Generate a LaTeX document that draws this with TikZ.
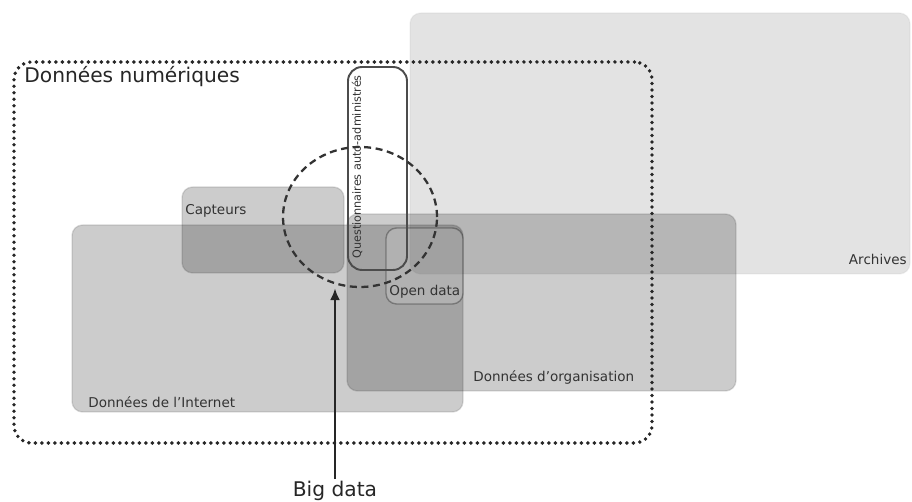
\documentclass[tikz,border=0pt]{standalone}
\usepackage{fontspec}
\setmainfont{DejaVu Sans}
\usetikzlibrary{arrows.meta,positioning,fit,shapes.geometric}

\begin{document}
\begin{tikzpicture}[
  x=0.02cm, y=-0.02cm,
  zone/.style={rounded corners=6pt, fill=black, fill opacity=0.2,
    draw=black, draw opacity=0.12, line width=0.8pt, inner sep=0pt},
  pale/.style={zone, fill opacity=0.11, draw opacity=0.04},
  tag/.style={font=\fontsize{7.7}{9}\selectfont, inner sep=0pt, text=black!80},
  numer/.style={draw=black!85, line width=2.2pt, line cap=round,
    dash pattern=on 0pt off 3.7pt, rounded corners=10pt, inner sep=0pt},
  quest/.style={draw=black!70, line width=1.1pt, rounded corners=8pt, inner sep=0pt},
  cloud/.style={ellipse, draw=black!80, line width=1.3pt,
    dash pattern=on 4pt off 2.6pt, inner sep=0pt},
  a/.style={-{Latex[length=2.4mm,width=2mm]}, line width=1.4pt, color=black!85}
]
  \useasboundingbox (0,0) rectangle (912,502);

  % zones
  \node[pale, fit={(410,13) (910,274)}] (arch) {};
  \node[zone, fit={(72,225) (463,412)}] (inet) {};
  \node[zone, fit={(182,187) (344,273)}] (capt) {};
  \node[zone, fit={(347,214) (736,391)}] (orga) {};
  \node[zone, fill=white, fill opacity=0.15, draw opacity=0.3,
    fit={(386,228) (463,304)}] (open) {};

  \node[tag, anchor=east] at (907,259) {Archives};
  \node[tag, anchor=west] at (88,402) {Données de l'Internet};
  \node[tag, anchor=west] at (185,211) {Capteurs};
  \node[tag, anchor=west] at (473,378) {Données d'organisation};
  \node[tag, anchor=west] at (389,292) {Open data};

  % questionnaires
  \node[quest, fit={(348,67) (407,270)}] (quest) {};
  \node[tag, font=\fontsize{6.4}{7}\selectfont, rotate=90] at (357,167)
    {Questionnaires auto-administrés};

  % données numériques
  \node[numer, fit={(14,62) (652,443)}] (num) {};
  \node[anchor=west, inner sep=0pt, font=\fontsize{11.5}{13}\selectfont, text=black!85]
    at (24,77) {Données numériques};

  % big data
  \node[cloud, minimum width=3.08cm, minimum height=2.8cm] (bd) at (360,217) {};
  \node[inner sep=1pt, font=\fontsize{11.5}{13}\selectfont, text=black!85]
    (big) at (335,491) {Big data};
  \draw[a] (big.north) -- (big.north |- bd.south);
\end{tikzpicture}
\end{document}
